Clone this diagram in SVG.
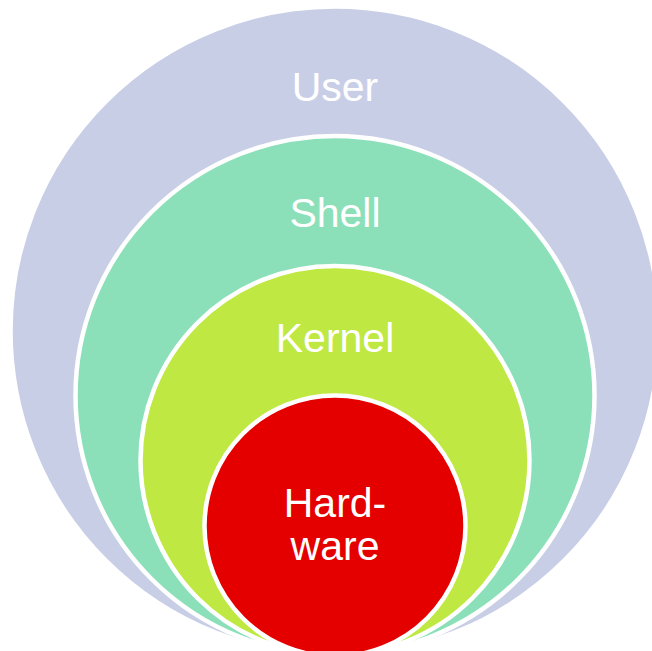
<svg xmlns="http://www.w3.org/2000/svg" width="652" height="651" viewBox="0 0 652 651">
<style>
.ring{stroke:#FFFFFF;stroke-width:4.5}
.lbl{font-family:"Liberation Sans",Arial,sans-serif;font-size:41px;fill:#FFFFFF;text-anchor:middle}
</style>
<rect width="652" height="651" fill="#FFFFFF"/>
<g id="user">
<circle class="ring" cx="335" cy="331" r="324.5" fill="#C9CEE7"/>
<text class="lbl" x="335" y="101">User</text>
</g>
<g id="shell">
<circle class="ring" cx="335" cy="395.5" r="259.5" fill="#8CE0B9"/>
<text class="lbl" x="335" y="226.5">Shell</text>
</g>
<g id="kernel">
<circle class="ring" cx="335" cy="460.5" r="194.5" fill="#BFE843"/>
<text class="lbl" x="335" y="352">Kernel</text>
</g>
<g id="hardware">
<circle class="ring" cx="335" cy="526" r="130.5" fill="#E50000"/>
<text class="lbl" x="335" y="517">Hard-</text>
<text class="lbl" x="335" y="560">ware</text>
</g>
<g id="connectors"></g>
</svg>
